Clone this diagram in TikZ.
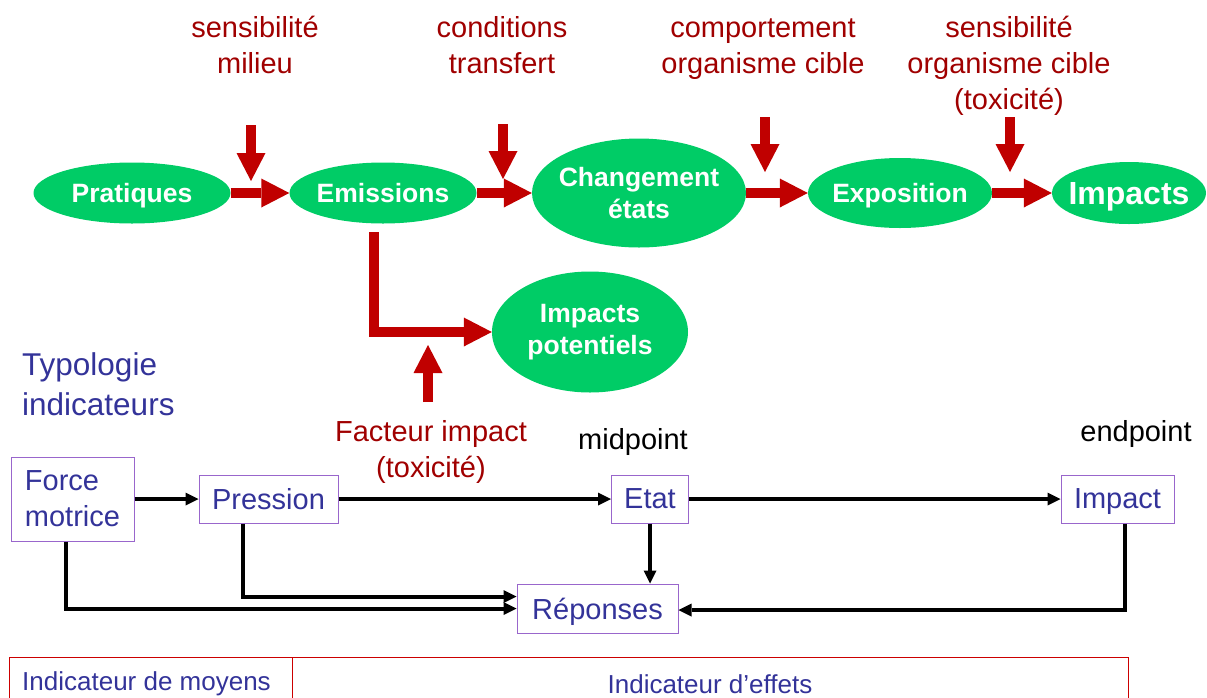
\documentclass[tikz,border=0pt]{standalone}
\usepackage{fontspec}
\setmainfont{Liberation Sans}
\usetikzlibrary{arrows.meta,shapes.geometric}
\definecolor{grn}{HTML}{00CC66}
\definecolor{arrred}{HTML}{C00000}
\definecolor{txtred}{HTML}{A00000}
\definecolor{txtblue}{HTML}{333399}
\definecolor{boxpurple}{HTML}{9966CC}
\definecolor{barred}{HTML}{CC0000}
\begin{document}
\begin{tikzpicture}[x=1pt,y=-1pt,
  ell/.style={ellipse,fill=grn,inner sep=0pt},
  ellt/.style={text=white,align=center,inner sep=0pt,
    font=\bfseries\fontsize{26.5}{32}\selectfont},
  redarr/.style={draw=arrred,line width=10pt,line join=miter,
    -{Triangle[length=28pt,width=29pt,line width=0pt,fill=arrred]}},
  redlbl/.style={text=txtred,align=center,inner sep=0pt,
    font=\fontsize{29}{36}\selectfont},
  ibox/.style={draw=boxpurple,line width=1pt,text=txtblue,align=center,inner sep=0pt,
    text depth=0pt,font=\fontsize{29}{36}\selectfont},
  blk/.style={draw=black,line width=4pt,
    -{Triangle[length=13pt,width=13pt,line width=0pt]}},
  bluelbl/.style={text=txtblue,inner sep=0pt,font=\fontsize{26}{30}\selectfont}
]
\useasboundingbox (0,0) rectangle (1207,697);

% top ellipses
\node[ell,minimum width=197pt,minimum height=61pt,
  label={[ellt,text depth=0pt]center:Pratiques}] (prat) at (132,193) {};
\node[ell,minimum width=187pt,minimum height=61pt,
  label={[ellt,text depth=0pt]center:Emissions}] (emis) at (383,193) {};
\node[ell,minimum width=214pt,minimum height=109pt,
  label={[ellt]center:Changement\\états}] (chg) at (639,193) {};
\node[ell,minimum width=184pt,minimum height=70pt,
  label={[ellt,text depth=0pt]center:Exposition}] (expo) at (900,193) {};
\node[ell,minimum width=154pt,minimum height=62pt,
  label={[ellt,text depth=0pt,font=\bfseries\fontsize{32}{36}\selectfont]center:Impacts}] (imp) at (1129,193) {};
\node[ell,minimum width=196pt,minimum height=121pt,
  label={[ellt]center:Impacts\\potentiels}] (impot) at (590,332) {};

% horizontal red arrows
\draw[redarr] (prat.east) -- (emis.west);
\draw[redarr] (emis.east) -- (chg.west);
\draw[redarr] (chg.east) -- (expo.west);
\draw[redarr] (expo.east) -- (imp.west);

% red labels
\node[redlbl] (l1) at (255,45) {sensibilité\\milieu};
\node[redlbl] (l2) at (502,45) {conditions\\transfert};
\node[redlbl] (l3) at (763,49) {comportement\\organisme cible};
\node[redlbl] (l4) at (1009,66) {sensibilité\\organisme cible\\(toxicité)};
\node[redlbl] (l5) at (431,451.5) {Facteur impact\\(toxicité)};

% down arrows
\coordinate (d1s) at (251,125); \coordinate (d1e) at (251,181);
\coordinate (d2s) at (503,124); \coordinate (d2e) at (503,179);
\coordinate (d3s) at (765,117); \coordinate (d3e) at (765,172);
\coordinate (d4s) at (1010,117); \coordinate (d4e) at (1010,172);
\draw[redarr] (d1s) -- (d1e);
\draw[redarr] (d2s) -- (d2e);
\draw[redarr] (d3s) -- (d3e);
\draw[redarr] (d4s) -- (d4e);

% L arrow and up arrow
\coordinate (ls) at (374,232);
\draw[redarr] (ls) |- (impot.west);
\coordinate (us) at (428,402); \coordinate (ue) at (428,345);
\draw[redarr] (us) -- (ue);

% typology
\node[text=txtblue,anchor=west,align=left,inner sep=0pt,
  font=\fontsize{31.5}{40}\selectfont] (typ) at (22,384) {Typologie\\indicateurs};
\node[inner sep=0pt,font=\fontsize{29}{36}\selectfont] (mid) at (633,442) {midpoint};
\node[inner sep=0pt,font=\fontsize{29}{36}\selectfont] (end) at (1136,434) {endpoint};

% boxes
\node[ibox,align=left,text depth=,minimum width=123pt,minimum height=84pt] (fm) at (72.5,499) {Force\\motrice};
\node[ibox,minimum width=139pt,minimum height=48pt] (pr) at (268.5,499) {Pression};
\node[ibox,minimum width=77pt,minimum height=48pt] (et) at (650,499) {Etat};
\node[ibox,minimum width=113pt,minimum height=48pt] (im) at (1117.5,499) {Impact};
\node[ibox,minimum width=161pt,minimum height=49pt] (rep) at (597.5,608.5) {Réponses};

\draw[blk] (fm.east) -- (pr.west);
\draw[blk] (pr.east) -- (et.west);
\draw[blk] (et.east) -- (im.west);
\draw[blk] (et.south) -- (et.south |- rep.north);
\draw[blk] ([xshift=-6.5pt]fm.south) |- (rep.west);
\draw[blk] ([xshift=-25.5pt]pr.south) |- ([yshift=12pt]rep.west);
\draw[blk] ([xshift=7.5pt]im.south) |- ([yshift=-1.5pt]rep.east);

% bottom bar
\draw[barred,line width=1pt] (9,702) -- (9,657) -- (1128,657) -- (1128,702);
\draw[barred,line width=1pt] (292,657) -- (292,702);
\node[bluelbl,anchor=west] (im1) at (22,684) {Indicateur de moyens};
\node[bluelbl] (im2) at (710,684) {Indicateur d’effets};
\end{tikzpicture}
\end{document}
